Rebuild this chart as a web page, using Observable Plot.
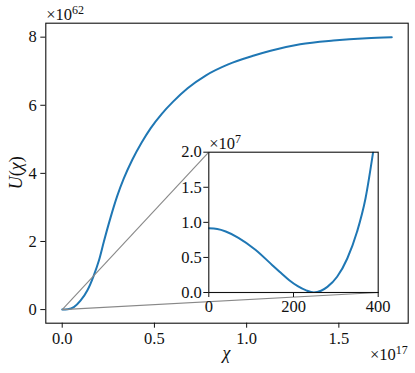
<!DOCTYPE html>
<html><head><meta charset="utf-8">
<script src="https://cdn.jsdelivr.net/npm/d3@7"></script>
<script src="https://cdn.jsdelivr.net/npm/@observablehq/plot@0.6"></script>
<style>
body{margin:0;background:#fff}
#chart{position:relative;width:415px;height:373px}
#chart svg{position:absolute;overflow:visible}
</style></head><body><div id="chart"></div>
<script>
// main curve: chi in units of 1e17, U in units of 1e62
const chiMain = [0, 0.03, 0.063, 0.099, 0.136, 0.171, 0.199, 0.226, 0.262, 0.298, 0.334, 0.38, 0.43, 0.48, 0.54, 0.6, 0.68, 0.78, 0.9, 1.04, 1.13, 1.29, 1.47, 1.65, 1.787];
const uMain   = [0, 0.01, 0.07, 0.26, 0.56, 1.0, 1.44, 2.0, 2.7, 3.33, 3.85, 4.4, 4.9, 5.33, 5.75, 6.1, 6.5, 6.88, 7.2, 7.46, 7.6, 7.79, 7.9, 7.97, 8.0];
// inset curve: chi (plain units), U in units of 1e7
const chiInset = [0, 20, 40, 70, 110, 150, 170, 190, 210, 230, 248, 265, 280, 303, 327, 350, 370, 388];
const uInset   = [0.915, 0.905, 0.87, 0.78, 0.61, 0.39, 0.28, 0.175, 0.09, 0.03, 0.0, 0.025, 0.08, 0.224, 0.485, 0.865, 1.34, 2.0];
const xTicksMain = [0, 0.5, 1.0, 1.5];
const yTicksMain = [0, 2, 4, 6, 8];
const xTicksInset = [0, 200, 400];
const yTicksInset = [0, 0.5, 1.0, 1.5, 2.0];
const xDomainMain = [-0.089, 1.876];
const yDomainMain = [-0.40, 8.41];
const xDomainInset = [0, 400];
const yDomainInset = [0, 2.0];
const xExpMain = "17", yExpMain = "62", yExpInset = "7";
// zoomed region corners, expressed in main units
const zoomRegion = {x0: 0, x1: 400 / 1e17, y0: 0, y1: 2e7 / 1e62};

const W = 415, H = 373;
const mM = {left: 45.3, right: 7.3, top: 22.7, bottom: 50.3};
const inset = {left: 208.3, top: 151.7, right: 377.7, bottom: 292};
const FONT = "Liberation Serif";
const FS = 16.5;
const BLUE = "#1f77b4";

const xs = d3.scaleLinear().domain(xDomainMain).range([mM.left, W - mM.right]);
const ys = d3.scaleLinear().domain(yDomainMain).range([H - mM.bottom, mM.top]);
const links = [
  {x1: zoomRegion.x0, y1: zoomRegion.y1, x2: xs.invert(inset.left), y2: ys.invert(inset.top)},
  {x1: zoomRegion.x1, y1: zoomRegion.y0, x2: xs.invert(inset.right), y2: ys.invert(inset.bottom)}
];
const mainData = chiMain.map((c, i) => ({c, u: uMain[i]}));
const insetData = chiInset.map((c, i) => ({c, u: uInset[i]}));

const main = Plot.plot({
  width: W, height: H,
  marginLeft: mM.left, marginRight: mM.right, marginTop: mM.top, marginBottom: mM.bottom,
  style: {background: "transparent", overflow: "visible"},
  x: {domain: xDomainMain}, y: {domain: yDomainMain},
  marks: [
    Plot.line(mainData, {x: "c", y: "u", stroke: BLUE, strokeWidth: 2, curve: "monotone-x"}),
    Plot.link(links, {x1: "x1", y1: "y1", x2: "x2", y2: "y2", stroke: "#888", strokeWidth: 1.1}),
    Plot.frame({stroke: "#111", strokeWidth: 1.1}),
    Plot.axisX({ticks: xTicksMain, tickFormat: d3.format(".1f"), tickSize: 5, tickPadding: 4, label: null, fontSize: FS, fontFamily: FONT, stroke: "#111", fill: "#111"}),
    Plot.axisY({ticks: yTicksMain, tickFormat: d3.format("d"), tickSize: 5, tickPadding: 4, label: null, fontSize: FS, fontFamily: FONT, stroke: "#111", fill: "#111"})
  ]
});
main.style.left = "0px"; main.style.top = "0px";
document.getElementById("chart").appendChild(main);

const sm = d3.select(main);
function expText(svg, x, y, exp, anchor) {
  const t = svg.append("text").attr("x", x).attr("y", y).attr("text-anchor", anchor)
    .attr("font-family", FONT).attr("font-size", FS).attr("fill", "#111");
  t.append("tspan").text("×10");
  t.append("tspan").attr("dy", -6).attr("font-size", 12).text(exp);
}
expText(sm, mM.left + 1, 20, yExpMain, "start");
expText(sm, W - mM.right, 360, xExpMain, "end");
sm.append("text").attr("x", (mM.left + W - mM.right) / 2).attr("y", 359)
  .attr("text-anchor", "middle").attr("font-family", FONT).attr("font-size", 18)
  .attr("font-style", "italic").attr("fill", "#111").text("χ");
const yl = sm.append("text").attr("transform", `translate(22,${(mM.top + H - mM.bottom) / 2}) rotate(-90)`)
  .attr("text-anchor", "middle").attr("font-family", FONT).attr("font-size", 18).attr("fill", "#111");
yl.append("tspan").attr("font-style", "italic").text("U");
yl.append("tspan").text("(");
yl.append("tspan").attr("font-style", "italic").text("χ");
yl.append("tspan").text(")");

const iL = 160, iT = 125;
const ip = Plot.plot({
  width: W - iL, height: H - iT,
  marginLeft: inset.left - iL, marginRight: W - inset.right, marginTop: inset.top - iT, marginBottom: H - inset.bottom,
  style: {background: "transparent", overflow: "visible"},
  x: {domain: xDomainInset}, y: {domain: yDomainInset},
  marks: [
    Plot.frame({fill: "white"}),
    Plot.line(insetData, {x: "c", y: "u", stroke: BLUE, strokeWidth: 2, curve: "monotone-x", clip: true}),
    Plot.frame({stroke: "#111", strokeWidth: 1.1}),
    Plot.axisX({ticks: xTicksInset, tickFormat: d3.format("d"), tickSize: 5, tickPadding: 3, label: null, fontSize: FS, fontFamily: FONT, stroke: "#111", fill: "#111"}),
    Plot.axisY({ticks: yTicksInset, tickFormat: d3.format(".1f"), tickSize: 5, tickPadding: 2, label: null, fontSize: FS, fontFamily: FONT, stroke: "#111", fill: "#111"})
  ]
});
ip.style.left = iL + "px"; ip.style.top = iT + "px";
document.getElementById("chart").appendChild(ip);
expText(d3.select(ip), inset.left - iL + 1, inset.top - iT - 3, yExpInset, "start");
</script></body></html>
